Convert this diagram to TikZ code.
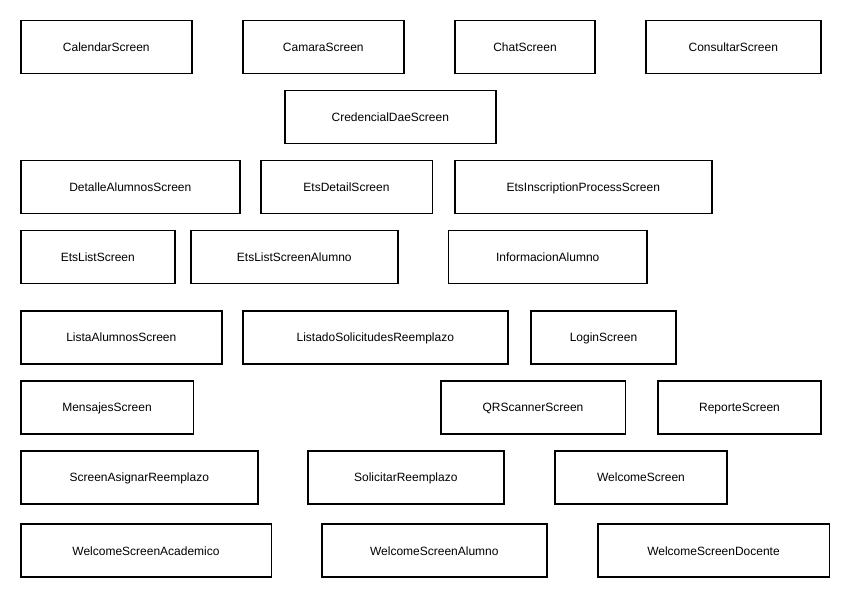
\documentclass[tikz,border=0pt]{standalone}
\usepackage{fontspec}
\setmainfont{Liberation Sans}
\usepackage{tikz}
\usetikzlibrary{positioning}

\begin{document}
\begin{tikzpicture}[
  x=1pt, y=-1pt,
  screen/.style={draw=black, line width=1.5pt, minimum height=53pt,
    inner sep=0pt, text height=9pt, text depth=0pt,
    font=\fontsize{12}{14}\selectfont}
]
  \useasboundingbox (0,0) rectangle (850,594);

  % Row 1
  \node[screen, minimum width=171pt] (calendar) at (106.3,47) {CalendarScreen};
  \node[screen, minimum width=161pt] (camara) at (323.3,47) {CamaraScreen};
  \node[screen, minimum width=140pt] (chat) at (525,47) {ChatScreen};
  \node[screen, minimum width=175pt] (consultar) at (733.3,47) {ConsultarScreen};

  % Row 2
  \node[screen, minimum width=211pt] (credencial) at (390.3,117) {CredencialDaeScreen};

  % Row 3
  \node[screen, minimum width=219pt] (detalle) at (130.3,187) {DetalleAlumnosScreen};
  \node[screen, minimum width=171.5pt] (etsdetail) at (346.5,187) {EtsDetailScreen};
  \node[screen, minimum width=257pt] (etsinscription) at (583.3,187) {EtsInscriptionProcessScreen};

  % Row 4
  \node[screen, minimum width=154pt] (etslist) at (97.8,257) {EtsListScreen};
  \node[screen, minimum width=207pt] (etslistalumno) at (294.3,257) {EtsListScreenAlumno};
  \node[screen, minimum width=198.5pt] (informacion) at (547.7,257) {InformacionAlumno};

  % Row 5
  \node[screen, minimum width=201pt] (lista) at (121.3,337.3) {ListaAlumnosScreen};
  \node[screen, minimum width=265pt] (listado) at (375.3,337.3) {ListadoSolicitudesReemplazo};
  \node[screen, minimum width=145pt] (login) at (603.5,337.3) {LoginScreen};

  % Row 6
  \node[screen, minimum width=172.5pt] (mensajes) at (107,407.3) {MensajesScreen};
  \node[screen, minimum width=184.5pt] (qrscanner) at (533,407.3) {QRScannerScreen};
  \node[screen, minimum width=163pt] (reporte) at (739.5,407.3) {ReporteScreen};

  % Row 7
  \node[screen, minimum width=237pt] (asignar) at (139.3,477.3) {ScreenAsignarReemplazo};
  \node[screen, minimum width=196pt] (solicitar) at (405.8,477.3) {SolicitarReemplazo};
  \node[screen, minimum width=172pt] (welcome) at (641,477.3) {WelcomeScreen};

  % Row 8
  \node[screen, minimum width=250.5pt] (academico) at (146,550.7) {WelcomeScreenAcademico};
  \node[screen, minimum width=225pt] (alumno) at (434.3,550.7) {WelcomeScreenAlumno};
  \node[screen, minimum width=231.5pt] (docente) at (713.5,550.7) {WelcomeScreenDocente};
\end{tikzpicture}
\end{document}
